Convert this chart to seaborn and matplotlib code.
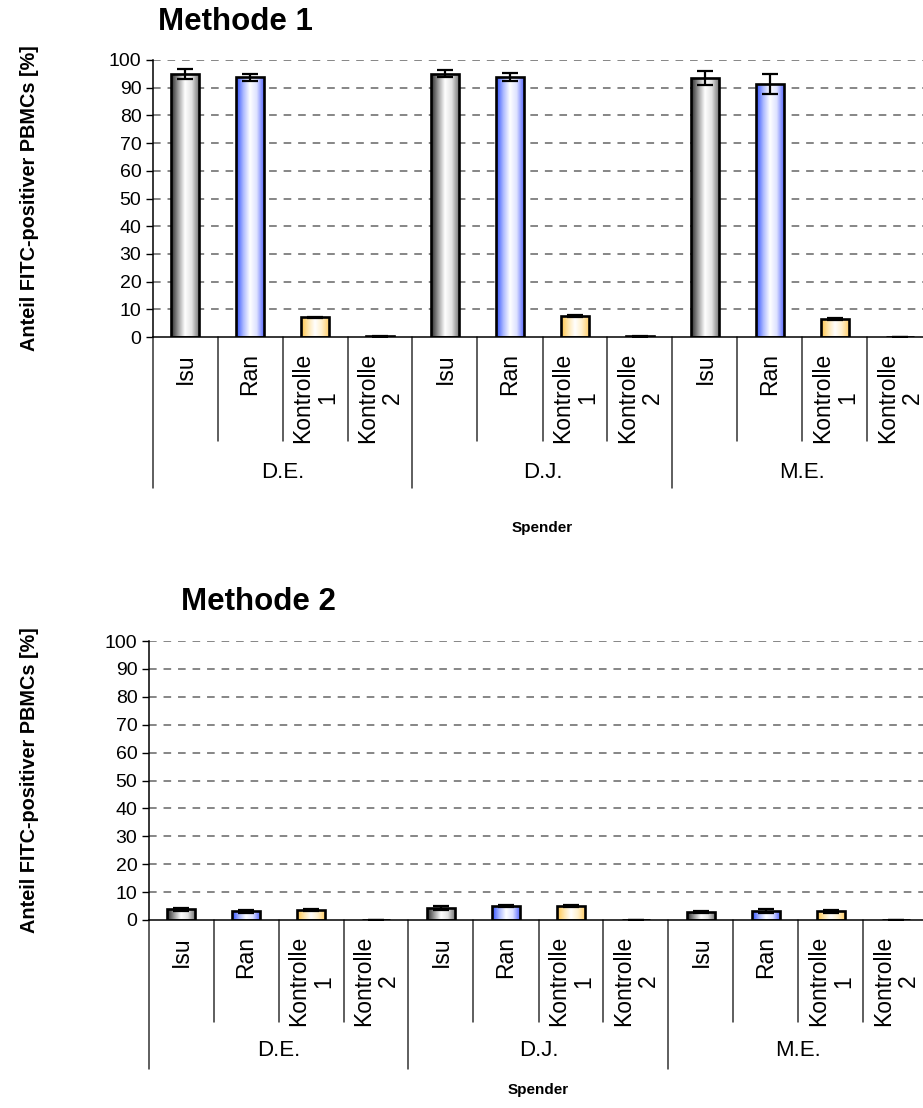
import matplotlib
matplotlib.use("Agg")
import numpy as np
import pandas as pd
import matplotlib.pyplot as plt
import seaborn as sns
from matplotlib.colors import LinearSegmentedColormap

# data
donors = ["D.E.", "D.J.", "M.E."]
conditions = ["Isu", "Ran", "Kontrolle\n1", "Kontrolle\n2"]

m1_mean = [95.0, 93.8, 7.2, 0.2,
           95.0, 93.8, 7.5, 0.2,
           93.5, 91.5, 6.4, 0.1]
m1_err = [1.7, 1.3, 0.2, 0.05,
          1.3, 1.5, 0.3, 0.05,
          2.6, 3.6, 0.4, 0.05]

m2_mean = [3.8, 3.1, 3.6, 0.1,
           4.3, 5.0, 4.9, 0.1,
           2.8, 3.1, 3.1, 0.1]
m2_err = [0.6, 0.6, 0.4, 0.05,
          0.8, 0.4, 0.4, 0.05,
          0.3, 0.7, 0.5, 0.05]

yticks = list(range(0, 101, 10))

base_colors = {"Isu": "#b0b0b0", "Ran": "#8899ff",
               "Kontrolle\n1": "#ffd580", "Kontrolle\n2": "#d0d0d0"}
gradients = {
    "Isu": ["#2a2a2a", "#9a9a9a", "#ffffff", "#e2e2e2", "#7a7a7a"],
    "Ran": ["#2f4fff", "#a8b6ff", "#ffffff", "#dde1ff", "#5d6dff"],
    "Kontrolle\n1": ["#ffc54a", "#ffe6ad", "#ffffff", "#fff0cc", "#ffcf6e"],
    "Kontrolle\n2": ["#2a2a2a", "#9a9a9a", "#ffffff", "#e2e2e2", "#7a7a7a"],
}

W, H = 923, 1108

sns.set_theme(style="white")
plt.rcParams["font.family"] = ["Liberation Sans", "DejaVu Sans"]
plt.rcParams["text.color"] = "black"
plt.rcParams["axes.labelcolor"] = "black"
plt.rcParams["xtick.color"] = "black"
plt.rcParams["ytick.color"] = "black"


def make_df(means, errs):
    rows = []
    for i, d in enumerate(donors):
        for j, c in enumerate(conditions):
            k = i * len(conditions) + j
            rows.append({"cat": f"{d}|{c}", "donor": d, "cond": c,
                         "value": means[k], "err": errs[k]})
    return pd.DataFrame(rows)


def draw_panel(fig, rect, means, errs, title, title_xy, ylab_y, offs):
    ax = fig.add_axes(rect)
    df = make_df(means, errs)
    sns.barplot(data=df, x="cat", y="value", hue="cond", order=list(df["cat"]),
                hue_order=conditions, palette=base_colors, dodge=False,
                width=0.42, errorbar=None, legend=False,
                edgecolor="black", linewidth=1.9, ax=ax, zorder=3)

    # gradient fills clipped to each bar
    for cont, cond in zip(ax.containers, conditions):
        cmap = LinearSegmentedColormap.from_list(cond, gradients[cond])
        for p in cont.patches:
            x0, y0 = p.get_x(), p.get_y()
            w, h = p.get_width(), p.get_height()
            if h <= 0:
                continue
            im = ax.imshow(np.linspace(0, 1, 64)[None, :], cmap=cmap,
                           extent=(x0, x0 + w, y0, y0 + h), aspect="auto",
                           zorder=2.5)
            im.set_clip_path(p)
            p.set_facecolor("none")

    ax.errorbar(x=np.arange(len(df)), y=df["value"], yerr=df["err"], fmt="none",
                ecolor="black", elinewidth=1.6, capsize=5.5, capthick=1.6, zorder=4)

    n = len(df)
    ax.set_xlim(-0.5, n - 0.5)
    ax.set_ylim(0, 100)
    ax.set_yticks(yticks)
    ax.set_yticklabels([str(t) for t in yticks], fontsize=14, color="black")
    ax.tick_params(axis="y", direction="out", length=5, width=1, color="black",
                   left=True, pad=3)
    ax.set_xticks([])
    ax.set_xlabel("")
    ax.set_ylabel("")
    for t in yticks[1:]:
        ax.axhline(t, color="#666666", lw=1.1, ls=(0, (5, 4.5)), zorder=1)
    for s in ["top", "right"]:
        ax.spines[s].set_visible(False)
    for s in ["left", "bottom"]:
        ax.spines[s].set_color("black")
        ax.spines[s].set_linewidth(1.1)

    ax_h = rect[3] * H
    tr = ax.get_xaxis_transform()
    cat_len, grp_len, lab_top, grp_lab, spender_off = offs
    # separators below the axis
    for k in range(n + 1):
        b = k - 0.5
        L = grp_len if k % len(conditions) == 0 else cat_len
        ax.plot([b, b], [0, -L / ax_h], transform=tr, color="#333333", lw=1.1,
                clip_on=False)
    for k, c in enumerate(df["cond"]):
        ax.text(k, -lab_top / ax_h, c, rotation=90, ha="center", va="top",
                multialignment="center", fontsize=16.5, transform=tr,
                linespacing=1.12, color="black")
    for i, d in enumerate(donors):
        xc = i * len(conditions) + (len(conditions) - 1) / 2
        ax.text(xc, -grp_lab / ax_h, d, ha="center", va="center",
                fontsize=16, transform=tr, color="black")
    ax.text(0.5, -spender_off / ax_h, "Spender", ha="center", va="center",
            fontsize=11, fontweight="bold", transform=ax.transAxes, color="black")

    fig.text(title_xy[0] / W, 1 - title_xy[1] / H, title, fontsize=22.5,
             fontweight="bold", ha="left", va="center", color="black")
    fig.text(30 / W, 1 - ylab_y / H, "Anteil FITC-positiver PBMCs [%]",
             rotation=90, ha="center", va="center", fontsize=14.3,
             fontweight="bold", color="black")
    return ax


fig = plt.figure(figsize=(W / 100, H / 100), dpi=100)
fig.patch.set_facecolor("white")

draw_panel(fig, [152.5 / W, 1 - 337 / H, 780 / W, 277 / H],
           m1_mean, m1_err, "Methode 1", (158, 22), 198,
           (104, 151, 16, 135, 191))
draw_panel(fig, [148.5 / W, 1 - 920 / H, 780 / W, 279 / H],
           m2_mean, m2_err, "Methode 2", (181, 602), 780,
           (102, 149, 16, 131, 170))

fig.savefig("out.png", dpi=100, facecolor="white")
